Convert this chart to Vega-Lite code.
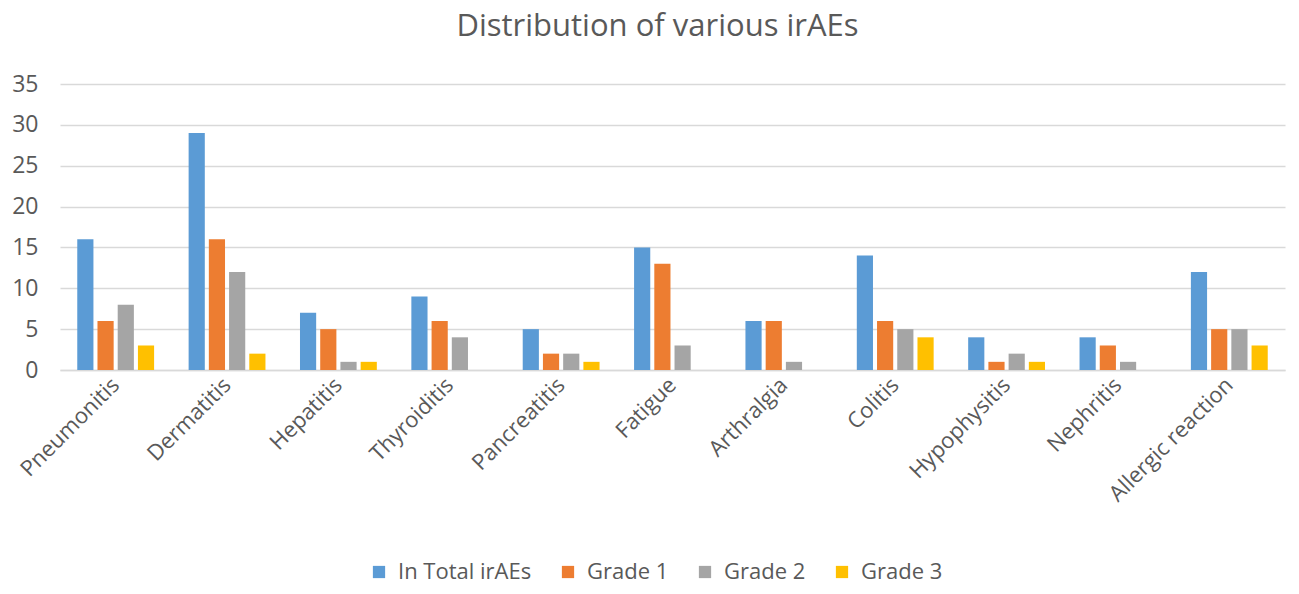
{
  "$schema": "https://vega.github.io/schema/vega-lite/v6.json",
  "width": 1225,
  "height": 286,
  "autosize": {"type": "none"},
  "padding": {"left": 60, "top": 84, "right": 14, "bottom": 224},
  "background": "white",
  "title": {"text": "Distribution of various irAEs", "fontSize": 31, "font": "Open Sans", "fontWeight": "normal", "color": "#595959", "anchor": "middle", "offset": 30, "dx": -15},
  "data": {"values": [
    {"category": "Pneumonitis", "grade": "In Total irAEs", "value": 16},
    {"category": "Pneumonitis", "grade": "Grade 1", "value": 6},
    {"category": "Pneumonitis", "grade": "Grade 2", "value": 8},
    {"category": "Pneumonitis", "grade": "Grade 3", "value": 3},
    {"category": "Dermatitis", "grade": "In Total irAEs", "value": 29},
    {"category": "Dermatitis", "grade": "Grade 1", "value": 16},
    {"category": "Dermatitis", "grade": "Grade 2", "value": 12},
    {"category": "Dermatitis", "grade": "Grade 3", "value": 2},
    {"category": "Hepatitis", "grade": "In Total irAEs", "value": 7},
    {"category": "Hepatitis", "grade": "Grade 1", "value": 5},
    {"category": "Hepatitis", "grade": "Grade 2", "value": 1},
    {"category": "Hepatitis", "grade": "Grade 3", "value": 1},
    {"category": "Thyroiditis", "grade": "In Total irAEs", "value": 9},
    {"category": "Thyroiditis", "grade": "Grade 1", "value": 6},
    {"category": "Thyroiditis", "grade": "Grade 2", "value": 4},
    {"category": "Thyroiditis", "grade": "Grade 3", "value": 0},
    {"category": "Pancreatitis", "grade": "In Total irAEs", "value": 5},
    {"category": "Pancreatitis", "grade": "Grade 1", "value": 2},
    {"category": "Pancreatitis", "grade": "Grade 2", "value": 2},
    {"category": "Pancreatitis", "grade": "Grade 3", "value": 1},
    {"category": "Fatigue", "grade": "In Total irAEs", "value": 15},
    {"category": "Fatigue", "grade": "Grade 1", "value": 13},
    {"category": "Fatigue", "grade": "Grade 2", "value": 3},
    {"category": "Fatigue", "grade": "Grade 3", "value": 0},
    {"category": "Arthralgia", "grade": "In Total irAEs", "value": 6},
    {"category": "Arthralgia", "grade": "Grade 1", "value": 6},
    {"category": "Arthralgia", "grade": "Grade 2", "value": 1},
    {"category": "Arthralgia", "grade": "Grade 3", "value": 0},
    {"category": "Colitis", "grade": "In Total irAEs", "value": 14},
    {"category": "Colitis", "grade": "Grade 1", "value": 6},
    {"category": "Colitis", "grade": "Grade 2", "value": 5},
    {"category": "Colitis", "grade": "Grade 3", "value": 4},
    {"category": "Hypophysitis", "grade": "In Total irAEs", "value": 4},
    {"category": "Hypophysitis", "grade": "Grade 1", "value": 1},
    {"category": "Hypophysitis", "grade": "Grade 2", "value": 2},
    {"category": "Hypophysitis", "grade": "Grade 3", "value": 1},
    {"category": "Nephritis", "grade": "In Total irAEs", "value": 4},
    {"category": "Nephritis", "grade": "Grade 1", "value": 3},
    {"category": "Nephritis", "grade": "Grade 2", "value": 1},
    {"category": "Nephritis", "grade": "Grade 3", "value": 0},
    {"category": "Allergic reaction", "grade": "In Total irAEs", "value": 12},
    {"category": "Allergic reaction", "grade": "Grade 1", "value": 5},
    {"category": "Allergic reaction", "grade": "Grade 2", "value": 5},
    {"category": "Allergic reaction", "grade": "Grade 3", "value": 3}
  ]},
  "mark": {"type": "bar"},
  "encoding": {
    "x": {
      "field": "category", "type": "nominal", "sort": null, "title": null,
      "scale": {"paddingInner": 0.31, "paddingOuter": 0.155},
      "axis": {"labelAngle": -45, "labelFontSize": 22, "labelFont": "Open Sans", "labelColor": "#595959", "ticks": false, "domainColor": "#d9d9d9", "domainWidth": 1.5, "labelPadding": 4, "labelOffset": -7}
    },
    "xOffset": {
      "field": "grade", "type": "nominal",
      "sort": ["In Total irAEs", "Grade 1", "Grade 2", "Grade 3"],
      "scale": {"paddingInner": 0.2, "paddingOuter": 0}
    },
    "y": {
      "field": "value", "type": "quantitative", "title": null,
      "scale": {"domain": [0, 35], "nice": false},
      "axis": {"values": [0, 5, 10, 15, 20, 25, 30, 35], "labelFontSize": 23, "labelFont": "Open Sans", "labelColor": "#595959", "ticks": false, "domain": false, "gridColor": "#d9d9d9", "gridWidth": 1.5, "labelPadding": 22}
    },
    "color": {
      "field": "grade", "type": "nominal", "title": null,
      "sort": ["In Total irAEs", "Grade 1", "Grade 2", "Grade 3"],
      "scale": {"domain": ["In Total irAEs", "Grade 1", "Grade 2", "Grade 3"], "range": ["#5B9BD5", "#ED7D31", "#A5A5A5", "#FFC000"]},
      "legend": {"orient": "none", "legendX": 308, "legendY": 477, "direction": "horizontal", "symbolType": "square", "symbolSize": 150, "labelFontSize": 22, "labelFont": "Open Sans", "labelColor": "#595959", "columnPadding": 25, "labelOffset": 8}
    }
  },
  "config": {"view": {"stroke": null}}
}
